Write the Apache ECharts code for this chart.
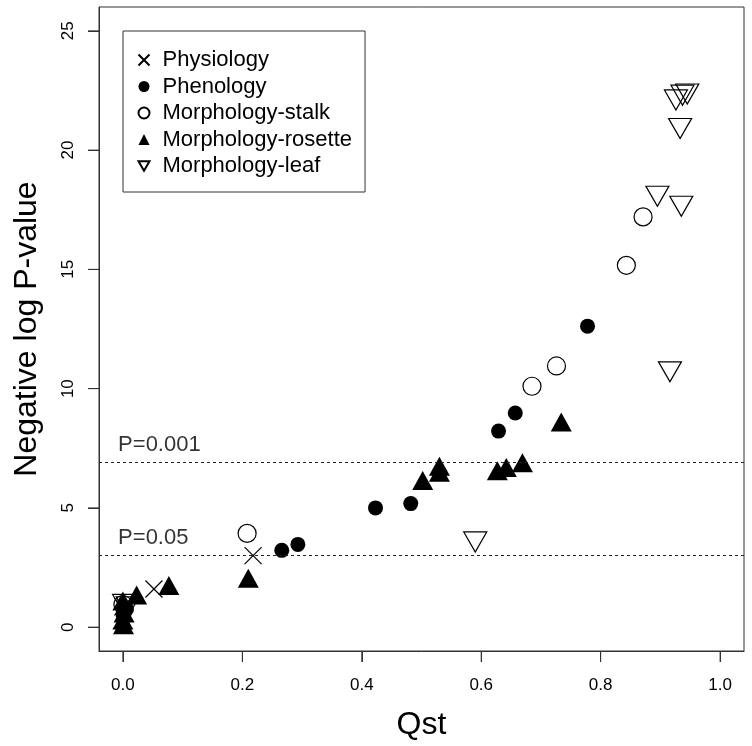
<!DOCTYPE html>
<html>
<head>
<meta charset="utf-8">
<script src="https://cdn.jsdelivr.net/npm/echarts@6/dist/echarts.min.js"></script>
<style>html,body{margin:0;padding:0;background:#fff}#c{width:752px;height:746px}</style>
</head>
<body>
<div id="c"></div>
<script>
// ---- data ----
var physX = [0.000, 0.052, 0.218];
var physY = [0.85, 1.60, 3.00];
var phenX = [0.000, 0.006, 0.266, 0.293, 0.423, 0.482, 0.629, 0.657, 0.778];
var phenY = [0.55, 0.75, 3.22, 3.47, 5.00, 5.18, 8.22, 8.98, 12.62];
var stalkX = [0.000, 0.208, 0.685, 0.726, 0.843, 0.871];
var stalkY = [0.95, 3.93, 10.10, 10.95, 15.17, 17.20];
var rosX = [0.000, 0.002, 0.000, 0.001, 0.023, 0.077, 0.210, 0.502, 0.530, 0.530, 0.627, 0.642, 0.669, 0.734];
var rosY = [0.97, 0.47, 0.17, -0.03, 1.22, 1.62, 1.92, 6.02, 6.62, 6.37, 6.43, 6.57, 6.77, 8.47];
var leafX = [0.002, 0.008, 0.590, 0.916, 0.895, 0.935, 0.933, 0.926, 0.937, 0.945];
var leafY = [1.08, 0.98, 3.70, 10.83, 18.19, 17.77, 21.03, 22.23, 22.43, 22.48];
var groupNames = ['Physiology', 'Phenology', 'Morphology-stalk', 'Morphology-rosette', 'Morphology-leaf'];
var thresholdY = [3.00, 6.91];
var thresholdText = ['P=0.05', 'P=0.001'];
var thresholdTextY = [3.72, 7.62];
var xTicks = [0, 0.2, 0.4, 0.6, 0.8, 1.0];
var yTicks = [0, 5, 10, 15, 20, 25];
var xRange = [-0.04, 1.04];
var yRange = [-1, 26];
var xTitle = 'Qst';
var yTitle = 'Negative log P-value';

function pts(xs, ys) { return xs.map(function (x, i) { return [x, ys[i]]; }); }

var FONT = 'Liberation Sans, Arial, Helvetica, sans-serif';
var crossPath = 'path://M0,0L10,10M10,0L0,10';
var downTri = 'path://M0,0L20,0L10,17.32Z';
var TICK_LEN = 11;

var chart = echarts.init(document.getElementById('c'), null, {renderer: 'canvas'});
chart.setOption({
  backgroundColor: '#fff',
  animation: false,
  textStyle: {fontFamily: FONT},
  grid: {left: 99, right: 8, top: 7, bottom: 93, show: true, borderColor: '#333', borderWidth: 1, containLabel: false},
  legend: {
    data: groupNames,
    orient: 'vertical',
    left: 123, top: 31,
    padding: [18, 13, 15, 13],
    borderColor: '#333', borderWidth: 1, borderRadius: 0,
    itemWidth: 11, itemHeight: 11, itemGap: 4.5,
    selectedMode: false,
    textStyle: {fontSize: 22, lineHeight: 22, color: '#000', fontFamily: FONT, padding: [0, 0, 0, 8]}
  },
  xAxis: {
    type: 'value', min: xRange[0], max: xRange[1], position: 'bottom',
    name: xTitle, nameLocation: 'middle', nameGap: 58,
    nameTextStyle: {fontSize: 32, color: '#000', fontFamily: FONT},
    axisLine: {show: true, onZero: false, lineStyle: {color: '#333', width: 1}},
    splitLine: {show: false},
    axisTick: {show: true, inside: false, length: TICK_LEN, customValues: xTicks, lineStyle: {color: '#333', width: 1}},
    axisLabel: {customValues: xTicks, fontSize: 17, color: '#000', margin: 26, formatter: function (v) { return v.toFixed(1); }}
  },
  yAxis: {
    type: 'value', min: yRange[0], max: yRange[1], position: 'left',
    name: yTitle, nameLocation: 'middle', nameGap: 56, nameRotate: 90,
    nameTextStyle: {fontSize: 32, color: '#000', fontFamily: FONT},
    axisLine: {show: true, onZero: false, lineStyle: {color: '#333', width: 1}},
    splitLine: {show: false},
    axisTick: {show: true, inside: false, length: TICK_LEN, customValues: yTicks, lineStyle: {color: '#333', width: 1}},
    axisLabel: {customValues: yTicks, fontSize: 17, color: '#000', margin: 22, rotate: 90, formatter: function (v) { return String(v); }}
  },
  series: [
    {name: groupNames[0], type: 'scatter', data: pts(physX, physY), symbol: crossPath, symbolSize: 17,
     itemStyle: {color: 'none', borderColor: '#000', borderWidth: 1.2, opacity: 1}, z: 5},
    {name: groupNames[1], type: 'scatter', data: pts(phenX, phenY), symbol: 'circle', symbolSize: 15,
     itemStyle: {color: '#000', borderWidth: 0, opacity: 1}, z: 4},
    {name: groupNames[2], type: 'scatter', data: pts(stalkX, stalkY), symbol: 'circle', symbolSize: 18,
     itemStyle: {color: 'transparent', borderColor: '#000', borderWidth: 1.2, opacity: 1}, z: 3},
    {name: groupNames[3], type: 'scatter', data: pts(rosX, rosY), symbol: 'triangle', symbolSize: [21, 19], symbolOffset: [0, -3],
     itemStyle: {color: '#000', borderWidth: 0, opacity: 1}, z: 4},
    {name: groupNames[4], type: 'scatter', data: pts(leafX, leafY), symbol: downTri, symbolSize: [23, 20], symbolOffset: [0, 3],
     itemStyle: {color: 'transparent', borderColor: '#000', borderWidth: 1.2, opacity: 1}, z: 3},
    {name: 'thresholds', type: 'scatter', data: thresholdText.map(function (t, i) { return [-0.008, thresholdTextY[i], t]; }),
     symbolSize: 0, silent: true,
     label: {show: true, position: 'right', distance: 0, fontSize: 22, color: '#000', fontFamily: FONT,
             formatter: function (p) { return p.value[2]; }},
     markLine: {silent: true, symbol: 'none', label: {show: false},
       lineStyle: {color: '#222', width: 1, type: [3, 3]},
       data: thresholdY.map(function (y) { return {yAxis: y}; })}}
  ]
});

// fallback tick marks, positioned through the chart's own axis scales
var tickEls = [];
xTicks.forEach(function (v) {
  var p = chart.convertToPixel({xAxisIndex: 0, yAxisIndex: 0}, [v, yRange[0]]);
  if (p && isFinite(p[0]) && isFinite(p[1])) {
    tickEls.push({type: 'line', silent: true, z: 100,
      shape: {x1: p[0], y1: p[1], x2: p[0], y2: p[1] + TICK_LEN},
      style: {stroke: '#333', lineWidth: 1}});
  }
});
yTicks.forEach(function (v) {
  var p = chart.convertToPixel({xAxisIndex: 0, yAxisIndex: 0}, [xRange[0], v]);
  if (p && isFinite(p[0]) && isFinite(p[1])) {
    tickEls.push({type: 'line', silent: true, z: 100,
      shape: {x1: p[0] - TICK_LEN, y1: p[1], x2: p[0], y2: p[1]},
      style: {stroke: '#333', lineWidth: 1}});
  }
});
chart.setOption({graphic: {elements: tickEls}});
</script>
</body>
</html>
